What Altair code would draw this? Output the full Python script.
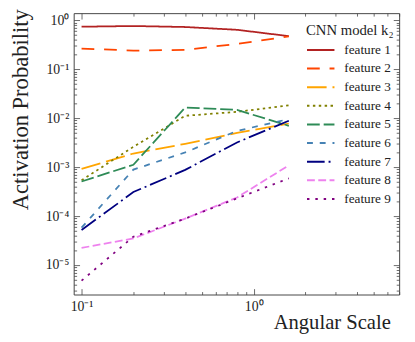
import altair as alt
import pandas as pd

# ---- data ----
scales = [0.1, 0.2, 0.4, 0.8, 1.6]
names = [f"feature {i}" for i in range(1, 10)]
f1 = [0.74, 0.765, 0.73, 0.64, 0.475]
f2 = [0.265, 0.24, 0.25, 0.33, 0.47]
f3 = [9.2e-4, 1.9e-3, 3.0e-3, 5.0e-3, 7.8e-3]
f4 = [5.4e-4, 2.6e-3, 1.12e-2, 1.35e-2, 1.83e-2]
f5 = [5.1e-4, 1.12e-3, 1.65e-2, 1.48e-2, 7.0e-3]
f6 = [5.8e-5, 8.9e-4, 2.0e-3, 5.5e-3, 9.6e-3]
f7 = [5.2e-5, 3.1e-4, 8.8e-4, 3.2e-3, 8.9e-3]
f8 = [2.24e-5, 3.5e-5, 8.9e-5, 2.4e-4, 1.09e-3]
f9 = [4.8e-6, 3.8e-5, 8.9e-5, 2.3e-4, 5.9e-4]
series = [f1, f2, f3, f4, f5, f6, f7, f8, f9]

colors = ["#b22222", "#ff4500", "#ffa500", "#808000", "#2e8b57",
          "#4682b4", "#000080", "#ee82ee", "#800080"]
dashes = [[1, 0], [13, 10], [20, 6], [2.5, 3.5], [13, 4],
          [6, 7], [18, 4, 2, 4], [8, 3.5], [2.5, 6]]

rows = []
for n, vals in zip(names, series):
    for s, v in zip(scales, vals):
        rows.append({"feature": n, "scale": s, "prob": v})
df = pd.DataFrame(rows)

W, H = 332, 287
FONT = "Liberation Serif, Times New Roman, serif"
TXT = "#222222"
AX = "#444444"

xscale = alt.Scale(type="log", domain=[0.09, 7], nice=False)
yscale = alt.Scale(type="log", domain=[2.5e-6, 1.4], nice=False)

x_major = [0.1, 1]
x_minor = [0.2, 0.3, 0.4, 0.5, 0.6, 0.7, 0.8, 0.9, 2, 3, 4, 5, 6, 7]
y_major = [1e-5, 1e-4, 1e-3, 1e-2, 1e-1, 1]
y_minor = [k * 10.0 ** e for e in range(-6, 1) for k in range(2, 10)
           if 2.5e-6 <= k * 10.0 ** e <= 1.4]

ylab = ("'10' + ['\u207b\u2075','\u207b\u2074','\u207b\u00b3','\u207b\u00b2',"
        "'\u207b\u00b9','\u2070'][round(log(datum.value)/LN10)+5]")
xlab = "'10' + (datum.value < 0.5 ? '\u207b\u00b9' : '\u2070')"

legend = alt.Legend(
    title="CNN model k\u2082", orient="none", legendX=237, legendY=10,
    titleFont=FONT, titleFontSize=15, titleFontWeight="normal", titleColor=TXT,
    titleLimit=200,
    labelFont=FONT, labelFontSize=13.5, labelColor=TXT,
    symbolType="stroke", symbolSize=784, symbolStrokeWidth=2,
    labelOffset=9, clipHeight=19, rowPadding=0, titlePadding=3, padding=0,
)

lines = alt.Chart(df).mark_line(strokeWidth=1.8, clip=True).encode(
    x=alt.X("scale:Q", scale=xscale, axis=alt.Axis(
        values=x_major, labelExpr=xlab, ticks=False, domain=False, grid=False,
        labelFont=FONT, labelFontSize=14, labelColor=TXT, labelPadding=5,
        title="Angular Scale", titleFont=FONT, titleFontSize=21,
        titleFontWeight="normal", titleColor=TXT, titleX=W - 9, titleY=35,
        titleAlign="right", titleBaseline="alphabetic")),
    y=alt.Y("prob:Q", scale=yscale, axis=alt.Axis(
        values=y_major, labelExpr=ylab, ticks=False, domain=False, grid=False,
        labelFont=FONT, labelFontSize=14, labelColor=TXT, labelPadding=5,
        title="Activation Probability", titleFont=FONT, titleFontSize=23,
        titleFontWeight="normal", titleColor=TXT, titleX=-47, titleY=98,
        titleAngle=270, titleAlign="center", titleBaseline="alphabetic")),
    color=alt.Color("feature:N", scale=alt.Scale(domain=names, range=colors),
                    legend=legend),
    strokeDash=alt.StrokeDash("feature:N", scale=alt.Scale(domain=names, range=dashes),
                              legend=legend),
)


def tick_axis(orient, offset, values, size):
    return alt.Axis(orient=orient, offset=offset, values=values, tickSize=size,
                    tickColor=AX, tickWidth=0.8, labels=False, domain=False,
                    grid=False, title=None)


def tick_layer(xa, ya):
    return alt.Chart(df).mark_line(opacity=0).encode(
        x=alt.X("scale:Q", scale=xscale, axis=xa),
        y=alt.Y("prob:Q", scale=yscale, axis=ya),
    )


layers = [
    lines,
    tick_layer(tick_axis("top", -H, x_major, 6), tick_axis("right", -W, y_major, 6)),
    tick_layer(tick_axis("top", -H, x_minor, 3), tick_axis("right", -W, y_minor, 3)),
    tick_layer(tick_axis("bottom", -H, x_major, 6), tick_axis("left", -W, y_major, 6)),
    tick_layer(tick_axis("bottom", -H, x_minor, 3), tick_axis("left", -W, y_minor, 3)),
]

chart = alt.layer(*layers).resolve_axis(x="independent", y="independent").properties(
    width=W, height=H, autosize="none",
    padding={"left": 67, "top": 2, "right": 8, "bottom": 37},
).configure_view(stroke=AX, strokeWidth=1)

chart.save("out.html", embed_options={"renderer": "svg", "actions": False})
